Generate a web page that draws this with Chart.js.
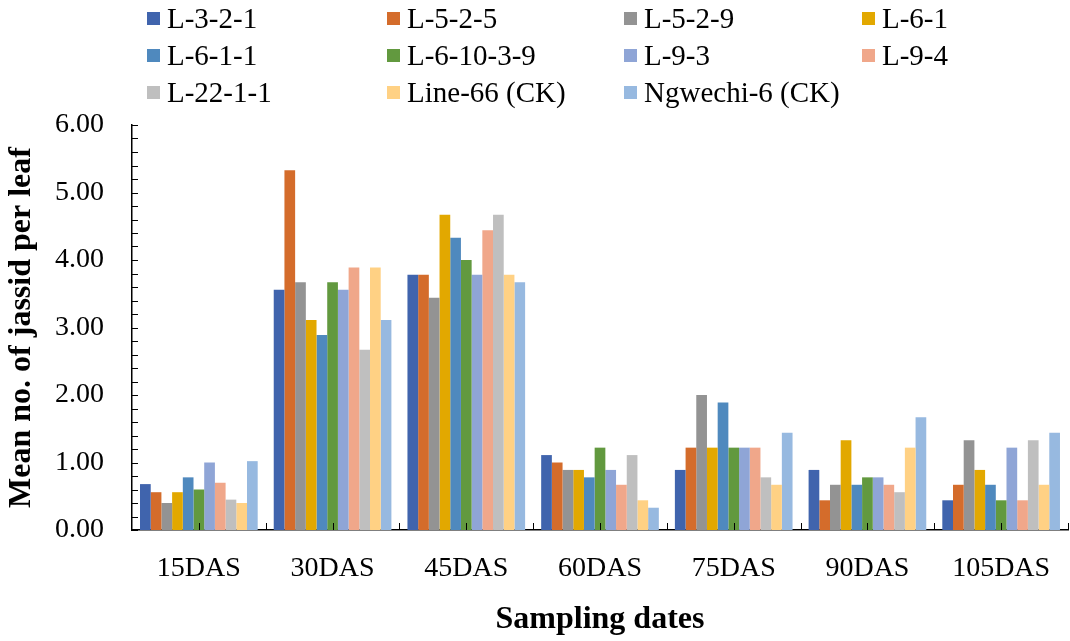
<!DOCTYPE html>
<html>
<head>
<meta charset="utf-8">
<script src="https://cdn.jsdelivr.net/npm/chart.js@4.4.1/dist/chart.umd.min.js"></script>
<style>
  html, body { margin: 0; padding: 0; background: #fff; }
  #wrap { position: relative; width: 1070px; height: 641px; }
  #legend { position: absolute; left: 0; top: 0; width: 1070px; height: 110px; font-family: "Liberation Serif", serif; font-size: 29px; color: #000; }
  .item { position: absolute; display: flex; align-items: center; white-space: nowrap; }
  .box { width: 13px; height: 13px; margin-right: 7px; }
</style>
</head>
<body>
<div id="wrap">
  <canvas id="chart" width="1070" height="641"></canvas>
  <div id="legend"></div>
</div>
<script>
// --- DATA ---
const categories = ['15DAS', '30DAS', '45DAS', '60DAS', '75DAS', '90DAS', '105DAS'];
const seriesNames = ['L-3-2-1', 'L-5-2-5', 'L-5-2-9', 'L-6-1', 'L-6-1-1', 'L-6-10-3-9', 'L-9-3', 'L-9-4', 'L-22-1-1', 'Line-66 (CK)', 'Ngwechi-6 (CK)'];
const seriesColors = ['#4064AD', '#D46C2B', '#939393', '#E2A800', '#4F89BE', '#62993F', '#8FA5D6', '#F0A78A', '#BFBFBF', '#FFD184', '#97B9E0'];

const L_3_2_1   = [0.68, 3.56, 3.78, 1.11, 0.89, 0.89, 0.44];
const L_5_2_5   = [0.56, 5.33, 3.78, 1.00, 1.22, 0.44, 0.67];
const L_5_2_9   = [0.40, 3.67, 3.44, 0.89, 2.00, 0.67, 1.33];
const L_6_1     = [0.56, 3.11, 4.67, 0.89, 1.22, 1.33, 0.89];
const L_6_1_1   = [0.78, 2.89, 4.33, 0.78, 1.89, 0.67, 0.67];
const L_6_10_3_9 = [0.60, 3.67, 4.00, 1.22, 1.22, 0.78, 0.44];
const L_9_3     = [1.00, 3.56, 3.78, 0.89, 1.22, 0.78, 1.22];
const L_9_4     = [0.70, 3.89, 4.44, 0.67, 1.22, 0.67, 0.44];
const L_22_1_1  = [0.45, 2.67, 4.67, 1.11, 0.78, 0.56, 1.33];
const LINE_66   = [0.40, 3.89, 3.78, 0.44, 0.67, 1.22, 0.67];
const NGWECHI_6 = [1.02, 3.11, 3.67, 0.33, 1.44, 1.67, 1.44];

const seriesValues = [L_3_2_1, L_5_2_5, L_5_2_9, L_6_1, L_6_1_1, L_6_10_3_9, L_9_3, L_9_4, L_22_1_1, LINE_66, NGWECHI_6];
const yTicks = [0, 1, 2, 3, 4, 5, 6];

// --- LEGEND (html, 4 columns) ---
const legendCols = [147, 387, 624, 862];
const legendRows = [18, 55, 92];
const legendEl = document.getElementById('legend');
seriesNames.forEach((name, i) => {
    const item = document.createElement('div');
    item.className = 'item';
    item.style.left = legendCols[i % 4] + 'px';
    item.style.top = (legendRows[Math.floor(i / 4)] - 17) + 'px';
    item.style.height = '34px';
    item.innerHTML = `<span class="box" style="background:${seriesColors[i]}"></span><span>${name}</span>`;
    legendEl.appendChild(item);
});

// small tick marks drawn inside the plot, like the original
const innerTicks = {
    id: 'innerTicks',
    afterDraw(chart) {
        const { ctx, chartArea, scales: { x, y } } = chart;
        ctx.save();
        ctx.strokeStyle = '#000';
        ctx.lineWidth = 1;
        ctx.beginPath();
        for (let k = 0; k <= 30; k++) {
            const py = Math.round(y.getPixelForValue(k * 0.2)) + 0.5;
            ctx.moveTo(chartArea.left, py);
            ctx.lineTo(chartArea.left + 6, py);
        }
        const step = (chartArea.right - chartArea.left) / (categories.length * 2);
        for (let k = 1; k <= categories.length * 2; k++) {
            const px = Math.round(chartArea.left + k * step) + 0.5;
            ctx.moveTo(px, chartArea.bottom);
            ctx.lineTo(px, chartArea.bottom - 7);
        }
        ctx.stroke();
        ctx.restore();
    }
};

const serif = "'Liberation Serif', 'Times New Roman', serif";

new Chart(document.getElementById('chart'), {
    type: 'bar',
    data: {
        labels: categories,
        datasets: seriesNames.map((name, i) => ({
            label: name,
            data: seriesValues[i],
            backgroundColor: seriesColors[i],
            borderWidth: 0,
            barPercentage: 1.0,
            categoryPercentage: 0.88
        }))
    },
    options: {
        responsive: false,
        animation: false,
        events: [],
        layout: { padding: { top: 125, right: 2, left: 0, bottom: 0 } },
        plugins: { legend: { display: false }, tooltip: { enabled: false } },
        scales: {
            x: {
                grid: { display: false },
                border: { color: '#000', width: 1.5 },
                ticks: { color: '#000', font: { family: serif, size: 28 }, padding: 14, maxRotation: 0 },
                title: { display: true, text: 'Sampling dates', color: '#000', font: { family: serif, size: 32, weight: 'bold' }, padding: { bottom: 2 } },
                afterFit: (scale) => { scale.height = 111; }
            },
            y: {
                min: 0,
                max: 6,
                afterBuildTicks: (scale) => { scale.ticks = yTicks.map(v => ({ value: v })); },
                grid: { display: false },
                border: { color: '#000', width: 1.5 },
                ticks: { color: '#000', font: { family: serif, size: 28 }, padding: 20, callback: (v) => Number(v).toFixed(2) },
                title: { display: true, text: 'Mean no. of jassid per leaf', color: '#000', font: { family: serif, size: 32, weight: 'bold' }, padding: { top: 3 } },
                afterFit: (scale) => { scale.width = 132; }
            }
        }
    },
    plugins: [innerTicks]
});
</script>
</body>
</html>
